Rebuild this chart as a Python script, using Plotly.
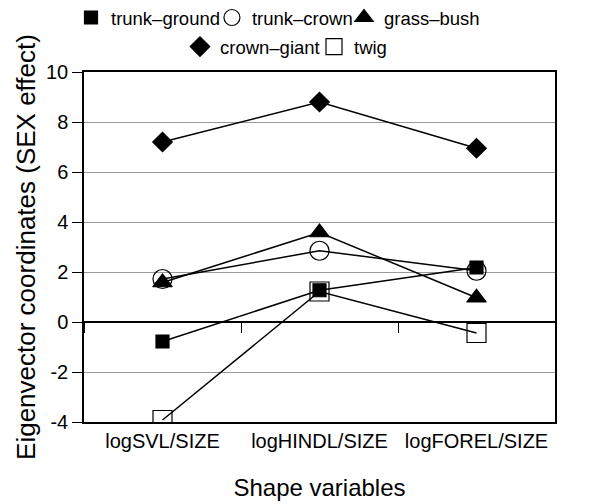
import plotly.graph_objects as go

categories = ["logSVL/SIZE", "logHINDL/SIZE", "logFOREL/SIZE"]
series_names = ["trunk–ground", "trunk–crown", "grass–bush", "crown–giant", "twig"]
trunk_ground = [-0.78, 1.27, 2.18]
trunk_crown = [1.72, 2.85, 2.05]
grass_bush = [1.58, 3.58, 0.97]
crown_giant = [7.2, 8.8, 6.95]
twig = [-3.92, 1.22, -0.44]
y_ticks = [-4, -2, 0, 2, 4, 6, 8, 10]

values = [trunk_ground, trunk_crown, grass_bush, crown_giant, twig]
symbols = ["square", "circle-open", "triangle-up", "diamond", "square-open"]
sizes = [13, 19, 17, 15, 19]
legend_ids = ["legend", "legend2", "legend3", "legend4", "legend5"]
# legend placement (container fractions)
legend_x = [0.1064, 0.3445, 0.5676, 0.2905, 0.5169]
legend_y = [0.9802, 0.9802, 0.9802, 0.9226, 0.9226]

FONT = "Liberation Sans, Arial, sans-serif"

fig = go.Figure()
for name, vals in zip(series_names, values):
    fig.add_trace(go.Scatter(x=categories, y=vals, mode="lines",
                             line=dict(color="black", width=1.5),
                             showlegend=False, hoverinfo="skip"))
for name, vals, sym, sz, lg in zip(series_names, values, symbols, sizes, legend_ids):
    fig.add_trace(go.Scatter(x=categories, y=vals, mode="markers", name=name,
                             xaxis="x2", yaxis="y",
                             marker=dict(symbol=sym, size=sz, color="black",
                                         line=dict(color="black", width=1.2)),
                             legend=lg))

layout_legends = {}
for lg, lx, ly in zip(legend_ids, legend_x, legend_y):
    layout_legends[lg] = dict(orientation="h", xref="container", x=lx, xanchor="left",
                              yref="container", y=ly, yanchor="middle",
                              font=dict(size=18.5), itemwidth=30, tracegroupgap=0,
                              bgcolor="rgba(0,0,0,0)")

fig.update_layout(
    width=592, height=504,
    margin=dict(l=76, r=45, t=64, b=90, autoexpand=False),
    paper_bgcolor="white", plot_bgcolor="white",
    font=dict(family=FONT, color="black"),
    xaxis=dict(type="category", categoryarray=categories, range=[-0.5, 2.5],
               showline=True, linecolor="black", linewidth=1.5, mirror=True,
               ticks="", showgrid=False, zeroline=False,
               tickfont=dict(size=20), ticklabelstandoff=0,
               title=dict(text="Shape variables", font=dict(size=24), standoff=28)),
    xaxis2=dict(type="category", categoryarray=categories, overlaying="x",
                anchor="free", position=4/14, range=[-0.5, 2.5],
                tickson="boundaries", ticks="outside", ticklen=10, tickcolor="black",
                tickwidth=1, showticklabels=False, showgrid=False, zeroline=False,
                showline=False),
    yaxis=dict(range=[-4, 10], tickvals=y_ticks, ticktext=[str(v) for v in y_ticks],
               showline=True, linecolor="black", linewidth=1.5, mirror=True,
               ticks="outside", ticklen=10, tickcolor="black", tickwidth=1,
               showgrid=True, gridcolor="#999999", gridwidth=1,
               zeroline=True, zerolinecolor="black", zerolinewidth=1.5,
               tickfont=dict(size=20),
               title=dict(text="Eigenvector coordinates (SEX effect)", font=dict(size=26), standoff=3)),
    **layout_legends,
)

fig.write_html("out.html")
